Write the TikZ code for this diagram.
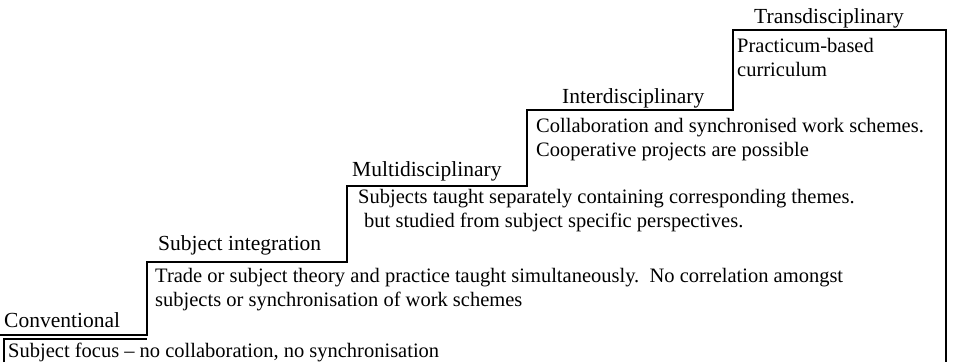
\documentclass[tikz,border=0pt]{standalone}
\usepackage{fontspec}
\setmainfont{Liberation Serif}
\begin{document}
\begin{tikzpicture}[x=1pt,y=-1pt,
  txt/.style={anchor=base west,inner sep=0pt,font=\fontsize{20.5}{24}\selectfont},
  title/.style={anchor=base west,inner sep=0pt,font=\fontsize{21.5}{24}\selectfont},
  edge/.style={draw=black,line width=1.3pt}]
\useasboundingbox (0,0) rectangle (957,362);
% titles
\node[title] (t1) at (4,327) {Conventional};
\node[title] (t2) at (158,250) {Subject integration};
\node[title] (t3) at (352,176) {Multidisciplinary};
\node[title] (t4) at (562,103) {Interdisciplinary};
\node[title] (t5) at (754,23) {Transdisciplinary};
% descriptions
\node[txt] (d1) at (8,357) {Subject focus -- no collaboration, no synchronisation};
\node[txt] (d2a) at (155,282) {Trade or subject theory and practice taught simultaneously.\ \ No correlation amongst};
\node[txt] (d2b) at (155,306) {subjects or synchronisation of work schemes};
\node[txt] (d3a) at (358,203) {Subjects taught separately containing corresponding themes.};
\node[txt] (d3b) at (364,227) {but studied from subject specific perspectives.};
\node[txt] (d4a) at (536,132) {Collaboration and synchronised work schemes.};
\node[txt] (d4b) at (536,156) {Cooperative projects are possible};
\node[txt] (d5a) at (737,52) {Practicum-based};
\node[txt] (d5b) at (737,76) {curriculum};
% staircase
\coordinate (s0) at (0,335);
\coordinate (s1) at (147,335);
\coordinate (s2) at (147,262);
\coordinate (s3) at (347,262);
\coordinate (s4) at (347,186);
\coordinate (s5) at (527,186);
\coordinate (s6) at (527,110);
\coordinate (s7) at (733,110);
\coordinate (s8) at (733,30);
\coordinate (s9) at (946,30);
\coordinate (s10) at (946,362);
\draw[edge] (s0) -- (s1) -- (s2) -- (s3) -- (s4) -- (s5) -- (s6) -- (s7) -- (s8) -- (s9) -- (s10);
\coordinate (b1) at (4,362);
\coordinate (b2) at (4,339);
\coordinate (b3) at (147,339);
\draw[edge] (b1) -- (b2) -- (b3);
\end{tikzpicture}
\end{document}
